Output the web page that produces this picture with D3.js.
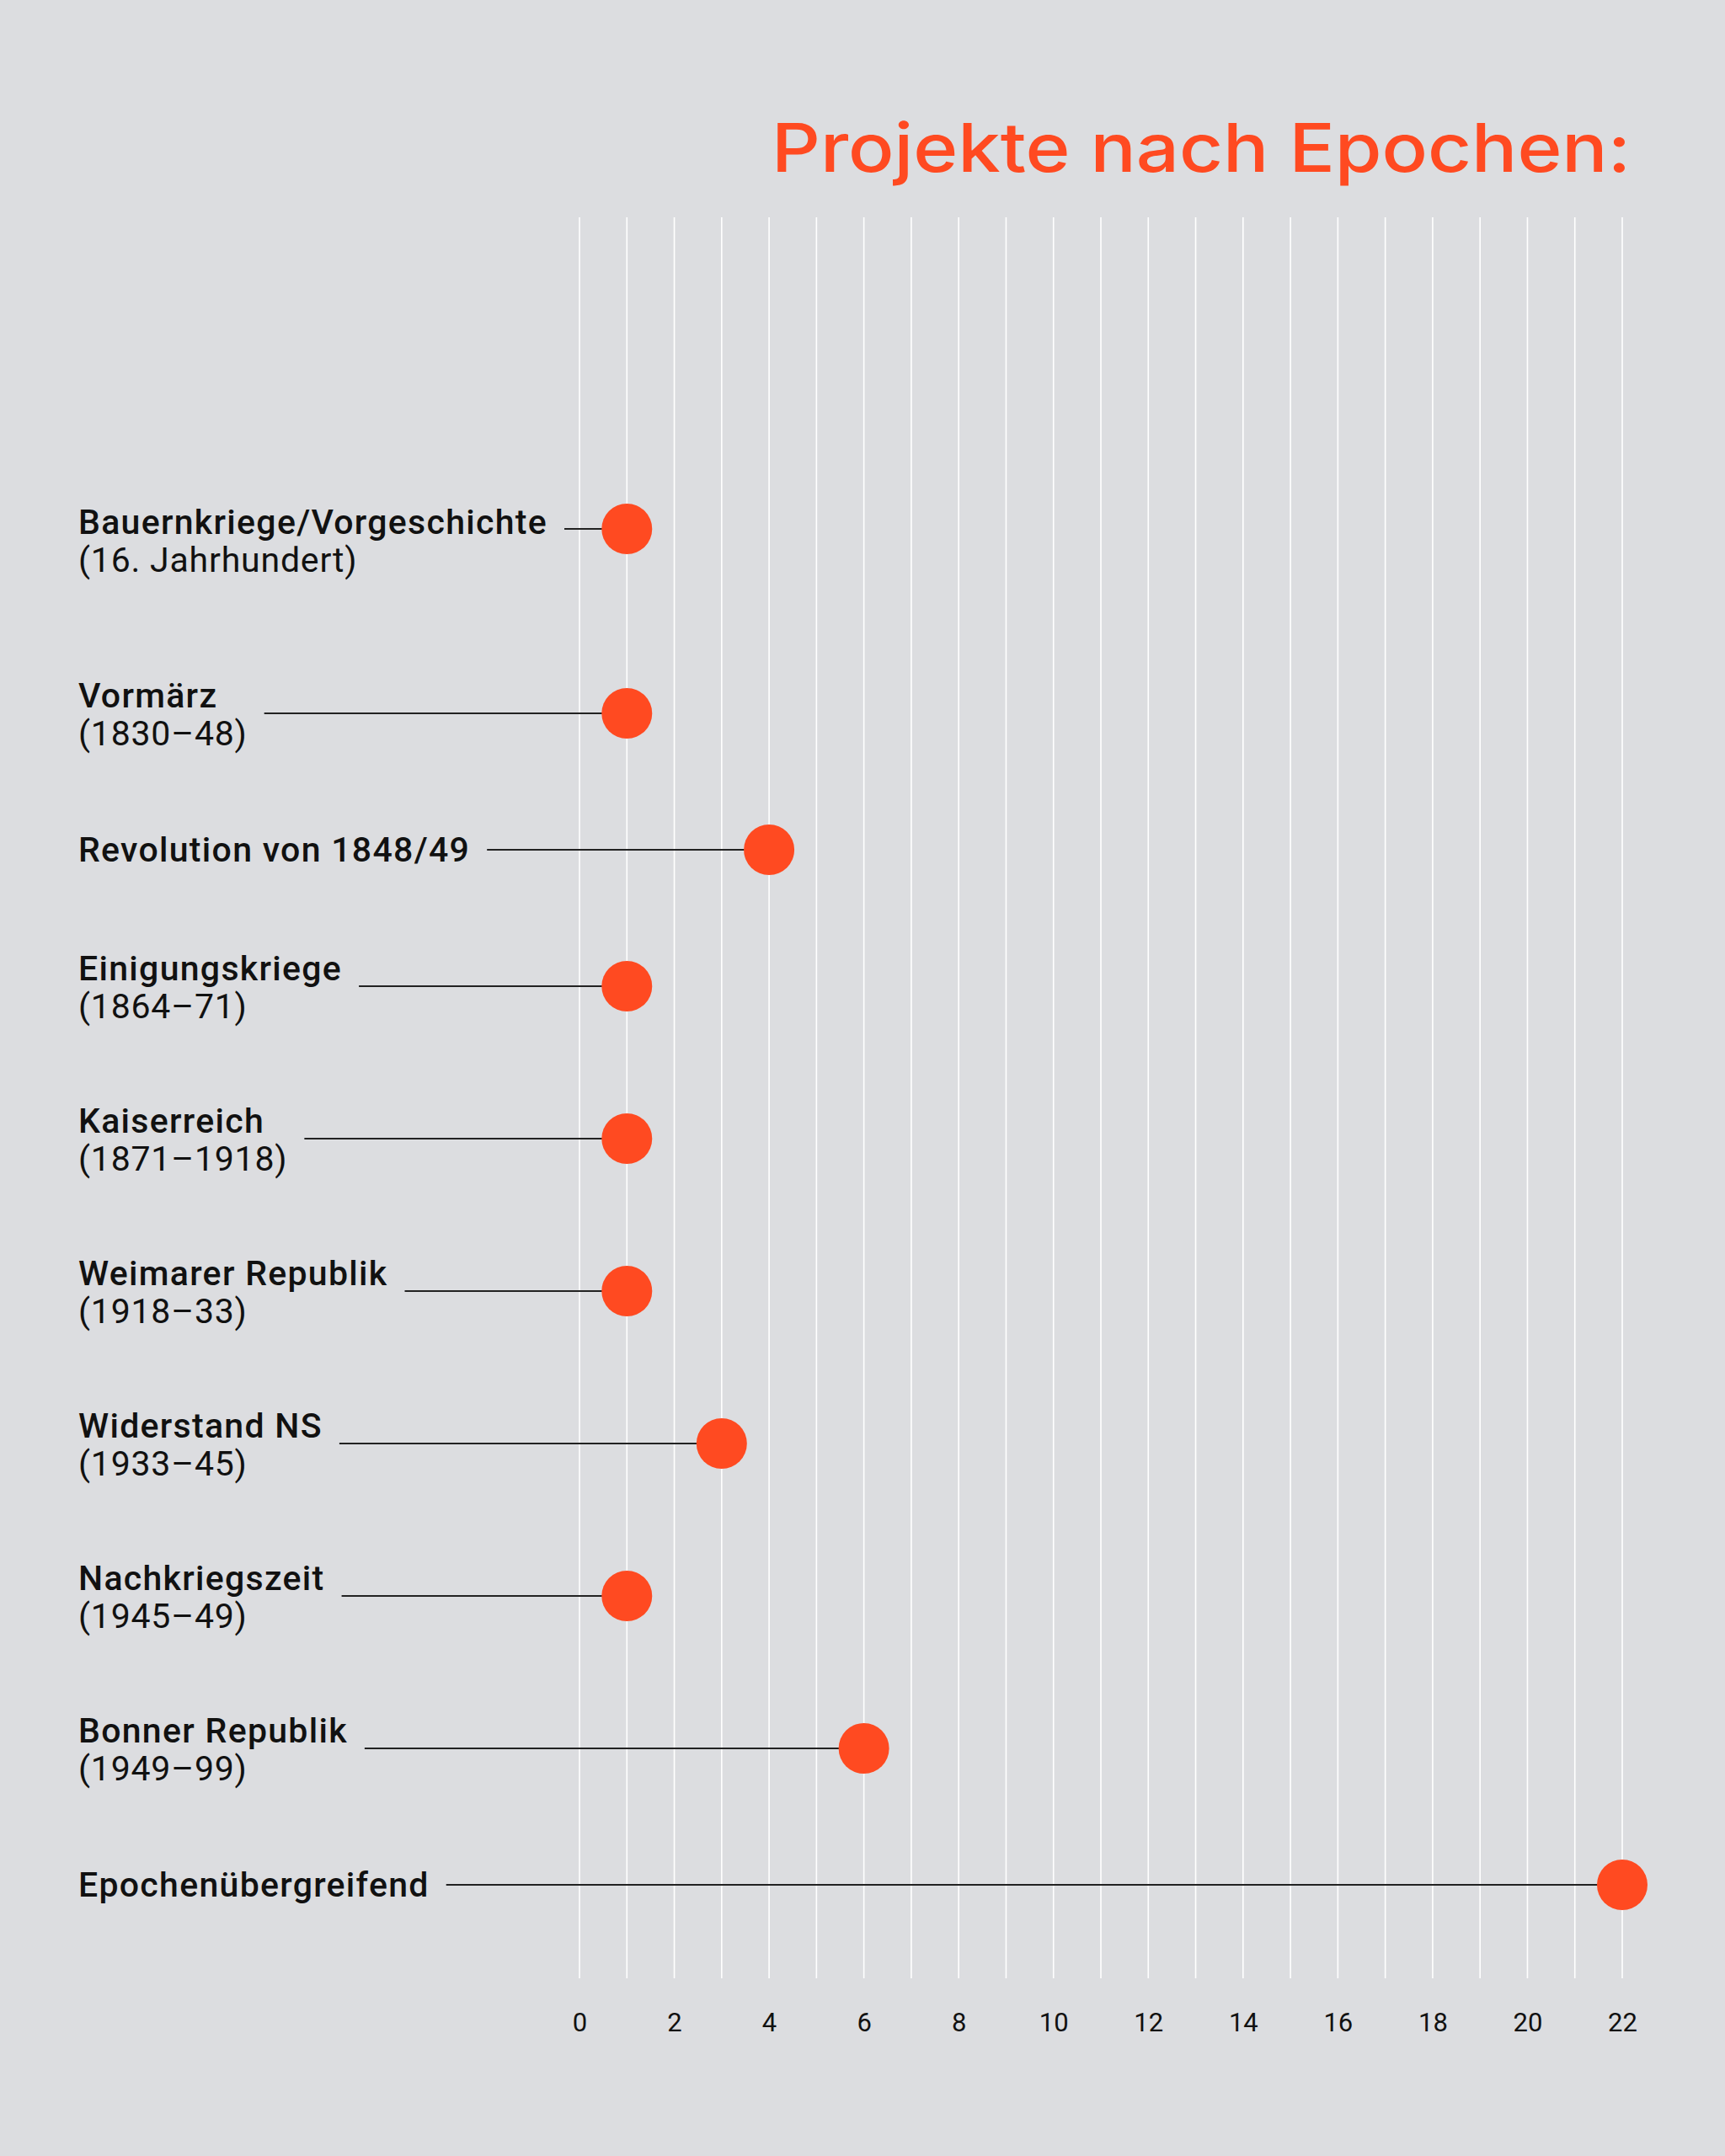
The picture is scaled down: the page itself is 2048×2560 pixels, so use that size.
<!DOCTYPE html>
<html>
<head>
<meta charset="utf-8">
<script src="https://cdn.jsdelivr.net/npm/d3@7"></script>
<style>
  html, body { margin: 0; padding: 0; background: #dcdde0; }
  svg { display: block; }
</style>
</head>
<body>
<svg id="chart" width="2048" height="2560"></svg>
<script>
// epochs, top to bottom
const epochs = [
  "Bauernkriege/Vorgeschichte",
  "Vormärz",
  "Revolution von 1848/49",
  "Einigungskriege",
  "Kaiserreich",
  "Weimarer Republik",
  "Widerstand NS",
  "Nachkriegszeit",
  "Bonner Republik",
  "Epochenübergreifend"
]
const periods = [
  "(16. Jahrhundert)",
  "(1830–48)",
  "",
  "(1864–71)",
  "(1871–1918)",
  "(1918–33)",
  "(1933–45)",
  "(1945–49)",
  "(1949–99)",
  ""
]
const projects = [1, 1, 4, 1, 1, 1, 3, 1, 6, 22]
const xTicks = d3.range(0, 23, 2)
const title = "Projekte nach Epochen:"

const orange = "#ff4a21"
const ink = "#111111"

const svg = d3.select("#chart")
svg.append("rect").attr("width", 2048).attr("height", 2560).attr("fill", "#dcdde0")

const x = d3.scaleLinear().domain([0, 22]).range([688, 1926])

// rows with a second line take more room than single-line rows
const half = (i) => periods[i] ? 90.5 : 71.5
const offsets = [0]
for (let i = 1; i < epochs.length; i++) {
  const extra = i === 1 ? 38 : 0 // first row sits a bit higher
  offsets.push(offsets[i - 1] + half(i - 1) + half(i) + extra)
}
const y = d3.scaleLinear()
  .domain([0, offsets[offsets.length - 1]])
  .range([628, 2238])

// title
svg.append("text")
  .attr("x", 1936)
  .attr("y", 204)
  .attr("text-anchor", "end")
  .attr("textLength", 1020)
  .attr("lengthAdjust", "spacingAndGlyphs")
  .attr("fill", orange)
  .style("font-family", "Inter, 'Noto Sans', sans-serif")
  .style("font-weight", 500)
  .style("font-size", "80px")
  .text(title)

// vertical grid, one line per unit
svg.append("g")
  .selectAll("line")
  .data(d3.range(0, 23))
  .join("line")
    .attr("x1", d => x(d))
    .attr("x2", d => x(d))
    .attr("y1", 258)
    .attr("y2", 2349)
    .attr("stroke", "#ffffff")
    .attr("stroke-width", 1.6)

// bottom tick labels
const axis = svg.append("g")
  .attr("transform", "translate(0,2349)")
  .call(d3.axisBottom(x).tickValues(xTicks).tickSize(0).tickPadding(0))
axis.select(".domain").remove()
axis.selectAll("text")
  .attr("y", 63)
  .attr("dy", 0)
  .attr("fill", ink)
  .style("font-family", "Roboto, sans-serif")
  .style("font-size", "31px")

// rows
const rows = svg.append("g")
  .selectAll("g")
  .data(epochs.map((e, i) => ({ epoch: e, period: periods[i], value: projects[i], i })))
  .join("g")
    .attr("transform", d => `translate(0,${y(offsets[d.i])})`)

// the first label sits a little lower than its dot
const labelShift = (d) => d.i === 0 ? 13 : 0

rows.append("text")
  .attr("class", "epoch")
  .attr("x", 93)
  .attr("y", d => (d.period ? -7 : 14) + labelShift(d))
  .attr("fill", ink)
  .style("font-family", "Roboto, sans-serif")
  .style("font-weight", 500)
  .style("font-size", "41px")
  .style("letter-spacing", "1.3px")
  .text(d => d.epoch)

rows.filter(d => d.period)
  .append("text")
  .attr("class", "period")
  .attr("x", 93)
  .attr("y", d => 38 + labelShift(d))
  .attr("fill", ink)
  .style("font-family", "Roboto, sans-serif")
  .style("font-weight", 400)
  .style("font-size", "41px")
  .style("letter-spacing", "0.8px")
  .text(d => d.period)

// connector from label end to the dot
rows.each(function (d) {
  const g = d3.select(this)
  let w = 0
  g.selectAll("text").each(function () { w = Math.max(w, this.getComputedTextLength()) })
  g.insert("line", "text")
    .attr("x1", 93 + w + 20)
    .attr("x2", x(d.value))
    .attr("y1", 0)
    .attr("y2", 0)
    .attr("stroke", "#222222")
    .attr("stroke-width", 2)
})

rows.append("circle")
  .attr("cx", d => x(d.value))
  .attr("cy", 0)
  .attr("r", 30)
  .attr("fill", orange)
</script>
</body>
</html>
